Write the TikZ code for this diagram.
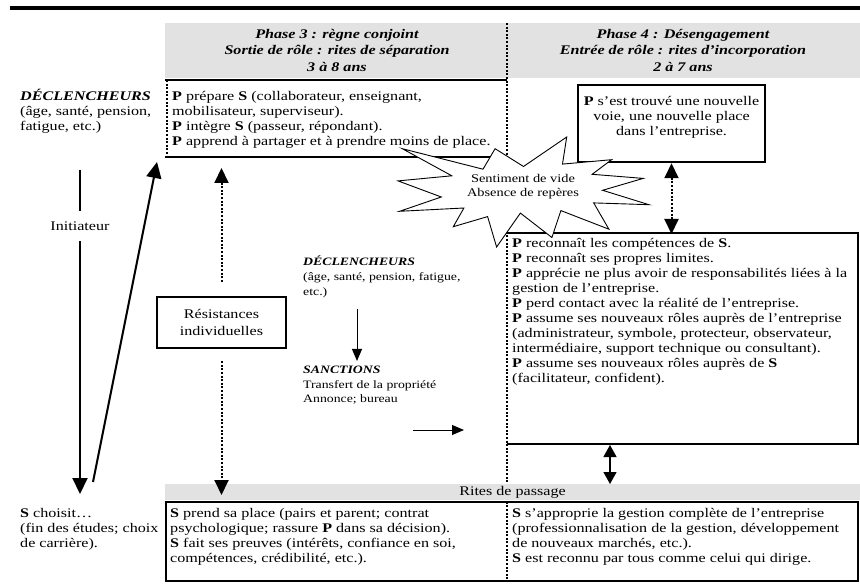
\documentclass[tikz,border=0pt]{standalone}
\usepackage{fontspec}
\setmainfont{Liberation Serif}[FakeStretch=1.22]
\usetikzlibrary{arrows.meta}
\definecolor{band}{HTML}{E2E2E2}

\begin{document}
\begin{tikzpicture}[x=1pt, y=-1pt,
  tx/.style={anchor=north west, inner sep=0pt, align=left, font=\fontsize{13.2}{15}\selectfont, execute at begin node=\strut},
  mid/.style={tx, font=\fontsize{11.3}{14.6}\selectfont},
  hd/.style={align=center, inner sep=0pt, font=\fontsize{13.2}{16.5}\selectfont\bfseries\itshape},
  rl/.style={line width=2.5pt},
  dt/.style={line width=2pt, dash pattern=on 2pt off 1.6pt},
  bx/.style={draw, line width=2.5pt, inner sep=0pt, align=center, font=\fontsize{13.2}{15}\selectfont},
  big/.style={line width=2pt, -{Triangle[length=16pt,width=15pt]}},
  dta/.style={dt, -{Triangle[length=15pt,width=14pt]}},
  dtb/.style={dt, {Triangle[length=15pt,width=14pt]}-{Triangle[length=15pt,width=14pt]}},
  sm/.style={line width=1pt, -{Triangle[length=12pt,width=10pt]}}]
  \useasboundingbox (0,0) rectangle (860,585);

  \fill[band] (165,23) rectangle (860,78);
  \draw[line width=3.5pt] (10,8) -- (860,8);
  \node[hd] (ph3) at (337,50) {Phase 3 : règne conjoint\\Sortie de rôle : rites de séparation\\3 à 8 ans};
  \node[hd] (ph4) at (683,50) {Phase 4 : Désengagement\\Entrée de rôle : rites d’incorporation\\2 à 7 ans};
  \draw[dt] (507,23) -- (507,581);

  \draw[rl] (165,80) -- (507,80);
  \draw[rl] (165,157) -- (507,157);
  \draw[dt] (167,80) -- (167,157);
  \draw[rl] (507,233) -- (858,233) -- (858,444) -- (507,444);
  \fill[band] (165,484) rectangle (860,500);
  \draw[rl] (166,502) rectangle (858,581);

  \node[tx] (prep) at (172,91.5) {\textbf{P} prépare \textbf{S} (collaborateur, enseignant,\\mobilisateur, superviseur).\\\textbf{P} intègre \textbf{S} (passeur, répondant).\\\textbf{P} apprend à partager et à prendre moins de place.};
  \node[tx] (decl) at (20,88.5) {\textbf{\textit{DÉCLENCHEURS}}\\(âge, santé, pension,\\fatigue, etc.)};
  \node[tx] (roles) at (512,238.5) {\textbf{P} reconnaît les compétences de \textbf{S}.\\\textbf{P} reconnaît ses propres limites.\\\textbf{P} apprécie ne plus avoir de responsabilités liées à la\\gestion de l’entreprise.\\\textbf{P} perd contact avec la réalité de l’entreprise.\\\textbf{P} assume ses nouveaux rôles auprès de l’entreprise\\(administrateur, symbole, protecteur, observateur,\\intermédiaire, support technique ou consultant).\\\textbf{P} assume ses nouveaux rôles auprès de \textbf{S}\\(facilitateur, confident).};
  \node[mid] (declmid) at (303,256) {\textbf{\textit{DÉCLENCHEURS}}\\(âge, santé, pension, fatigue,\\etc.)};
  \node[mid] (sanc) at (303,366) {\textbf{\textit{SANCTIONS}}\\Transfert de la propriété\\Annonce; bureau};
  \node[tx] (sprend) at (170,508.5) {\textbf{S} prend sa place (pairs et parent; contrat\\psychologique; rassure \textbf{P} dans sa décision).\\\textbf{S} fait ses preuves (intérêts, confiance en soi,\\compétences, crédibilité, etc.).};
  \node[tx] (sappr) at (512,508.5) {\textbf{S} s’approprie la gestion complète de l’entreprise\\(professionnalisation de la gestion, développement\\de nouveaux marchés, etc.).\\\textbf{S} est reconnu par tous comme celui qui dirige.};
  \node[tx] (schoix) at (20,508.5) {\textbf{S} choisit…\\(fin des études; choix\\de carrière).};
  \node[inner sep=0pt, font=\fontsize{13.2}{15}\selectfont] (rites) at (512.5,492) {Rites de passage};

  \node[bx, minimum width=129pt, minimum height=51pt, font=\fontsize{13.2}{17}\selectfont] (resist) at (221.5,322.5) {Résistances\\individuelles};
  \node[bx, minimum width=187pt, minimum height=77pt] (voie) at (671.5,123.5) {\textbf{P} s’est trouvé une nouvelle\\voie, une nouvelle place\\dans l’entreprise.\\\mbox{}};

  \coordinate (initA) at (80,170);
  \coordinate (initB) at (80,494);
  \coordinate (diagA) at (93,482);
  \coordinate (diagB) at (157,162);
  \coordinate (resA) at (221.5,168);
  \coordinate (resB) at (221.5,495);
  \coordinate (bigTop) at (671.5,234);
  \coordinate (bigBot) at (610,445);
  \coordinate (ritesTop) at (610,484);
  \coordinate (decA) at (357,309);
  \coordinate (decB) at (357,361);
  \coordinate (sancA) at (413,430);
  \coordinate (sancB) at (464,430);

  \draw[big] (initA) -- (initB);
  \node[fill=white, inner xsep=2pt, inner ysep=11pt, font=\fontsize{13.2}{15}\selectfont] (init) at (80,226) {Initiateur};
  \draw[big] (diagA) -- (diagB);
  \draw[dta, shorten <=14pt] (resist.north) -- (resA);
  \draw[dta, shorten <=12pt] (resist.south) -- (resB);
  \draw[dtb] (voie.south) -- (bigTop);
  \draw[line width=1.2pt, {Triangle[length=12pt,width=13pt]}-{Triangle[length=12pt,width=13pt]}] (bigBot) -- (ritesTop);
  \draw[sm] (decA) -- (decB);
  \draw[sm] (sancA) -- (sancB);

  \draw[line width=0.9pt, fill=white] (523.5,166.5) -- (566.7,137) -- (562.5,164.1) -- (611.6,159.7) -- (592.1,174.3) -- (643.2,178.4) -- (602.6,190.3) -- (649,204.7) -- (593.7,202.9) -- (608.9,229.2) -- (560.9,210.6) -- (551.9,237.5) -- (520.4,213.1) -- (496.6,247) -- (487.6,216.6) -- (453.3,226.7) -- (463.9,208) -- (399.6,211.3) -- (441.3,197) -- (398,180.9) -- (451.8,175.8) -- (402.3,148.7) -- (483,169.2) -- (495.1,148.7) -- cycle;
  \node[align=center, inner sep=0pt, font=\fontsize{11.8}{14}\selectfont] (vide) at (523,187) {Sentiment de vide\\Absence de repères};
\end{tikzpicture}
\end{document}
